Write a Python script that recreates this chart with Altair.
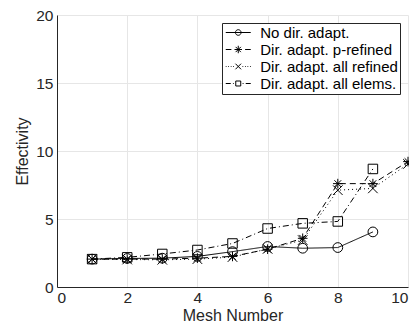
import altair as alt
import pandas as pd

series_names = ["No dir. adapt.", "Dir. adapt. p-refined", "Dir. adapt. all refined", "Dir. adapt. all elems."]
mesh_s1 = [1, 2, 3, 4, 5, 6, 7, 8, 9]
eff_s1 = [2.05, 2.1, 2.12, 2.25, 2.6, 2.98, 2.85, 2.9, 4.05]
mesh_s2 = [1, 2, 3, 4, 5, 6, 7, 8, 9, 10]
eff_s2 = [2.05, 2.05, 2.05, 2.12, 2.25, 2.78, 3.58, 7.6, 7.6, 9.22]
mesh_s3 = [1, 2, 3, 4, 5, 6, 7, 8, 9, 10]
eff_s3 = [2.05, 2.02, 2.0, 2.05, 2.2, 2.8, 3.45, 7.12, 7.25, 9.05]
mesh_s4 = [1, 2, 3, 4, 5, 6, 7, 8, 9]
eff_s4 = [2.05, 2.18, 2.43, 2.72, 3.2, 4.3, 4.68, 4.82, 8.68]
x_ticks = [0, 2, 4, 6, 8, 10]
y_ticks = [0, 5, 10, 15, 20]

rows = []
for name, xs, ys in zip(series_names, [mesh_s1, mesh_s2, mesh_s3, mesh_s4], [eff_s1, eff_s2, eff_s3, eff_s4]):
    for xv, yv in zip(xs, ys):
        rows.append({"series": name, "mesh": xv, "eff": yv})
df = pd.DataFrame(rows)

FONT = "Liberation Sans"
INK = "#262626"

# marker paths (plot)
asterisk = "M-1,0L1,0M0,-1L0,1M-0.7,-0.7L0.7,0.7M-0.7,0.7L0.7,-0.7"
xmark = "M-1,-1L1,1M-1,1L1,-1"
marker_shapes = ["circle", asterisk, xmark, "square"]
line_dashes = [[1, 0], [6, 4], [1, 3], [6, 3, 1, 3]]

# legend paths: line sample + marker
circ = "M-0.45,0A0.45,0.45 0 1,1 0.45,0A0.45,0.45 0 1,1 -0.45,0"
ast_s = "M-0.6,0L0.6,0M0,-0.6L0,0.6M-0.42,-0.42L0.42,0.42M-0.42,0.42L0.42,-0.42"
x_s = "M-0.45,-0.45L0.45,0.45M-0.45,0.45L0.45,-0.45"
sq_s = "M-0.4,-0.4L0.4,-0.4L0.4,0.4L-0.4,0.4Z"
leg1 = "M-2,0L2,0" + circ
leg2 = "M-2,0L-1.1,0M-0.5,0L0.5,0M1.1,0L2,0" + ast_s
leg3 = "".join(f"M{v:.2f},0L{v+0.12:.2f},0" for v in [-2, -1.6, -1.2, -0.8, 0.68, 1.08, 1.48, 1.88]) + x_s
leg4 = "M-2,0L-1.2,0M-0.85,0L-0.72,0M0.7,0L0.85,0M1.2,0L2,0" + sq_s
legend_paths = [leg1, leg2, leg3, leg4]

xs = alt.Scale(domain=[0, 10], nice=False)
ys = alt.Scale(domain=[0, 20], nice=False)
xax = alt.Axis(values=x_ticks, title="Mesh Number", labelFontSize=15.5, titleFontSize=16,
               labelPadding=3, titlePadding=2, tickSize=0, grid=True)
yax = alt.Axis(values=y_ticks, title="Effectivity", labelFontSize=15.5, titleFontSize=16,
               labelPadding=4, titlePadding=5, tickSize=0, grid=True)

base = alt.Chart(df)

lines = base.mark_line(color="black", strokeWidth=1).encode(
    x=alt.X("mesh:Q", scale=xs, axis=xax),
    y=alt.Y("eff:Q", scale=ys, axis=yax),
    strokeDash=alt.StrokeDash("series:N", scale=alt.Scale(domain=series_names, range=line_dashes), legend=None),
    detail="series:N",
)

points = base.mark_point(filled=False, color="black", strokeWidth=1, opacity=1).encode(
    x=alt.X("mesh:Q", scale=xs),
    y=alt.Y("eff:Q", scale=ys),
    shape=alt.Shape("series:N", scale=alt.Scale(domain=series_names, range=marker_shapes), legend=None),
    size=alt.Size("series:N", scale=alt.Scale(domain=series_names, range=[95, 90, 70, 60]), legend=None),
)

legend_layer = base.transform_filter("false").mark_point(filled=False, color="black", strokeWidth=1, opacity=1).encode(
    shape=alt.Shape("series:N", scale=alt.Scale(domain=series_names, range=legend_paths),
                    legend=alt.Legend(title=None, orient="none", legendX=165, legendY=8,
                                      labelFontSize=15, labelFont=FONT, labelColor="black",
                                      symbolSize=156, symbolStrokeColor="black", symbolFillColor="transparent",
                                      symbolStrokeWidth=1, symbolOffset=6.75, labelOffset=14.5, rowPadding=1,
                                      padding=2, strokeColor=INK, fillColor="white", labelLimit=300)),
)

chart = alt.layer(lines, points, legend_layer).resolve_scale(
    shape="independent"
).properties(
    width=351, height=272,
    autosize=alt.AutoSizeParams(type="none"),
    padding={"left": 49, "top": 7, "right": 1, "bottom": 36},
).configure(font=FONT).configure_view(stroke=None).configure_axis(
    domainColor=INK, domainWidth=1, gridColor="#e6e6e6", gridWidth=1,
    labelColor=INK, titleColor=INK, labelFont=FONT, titleFont=FONT, titleFontWeight="normal",
)

chart.save("out.html", embed_options={"renderer": "svg", "actions": False})
